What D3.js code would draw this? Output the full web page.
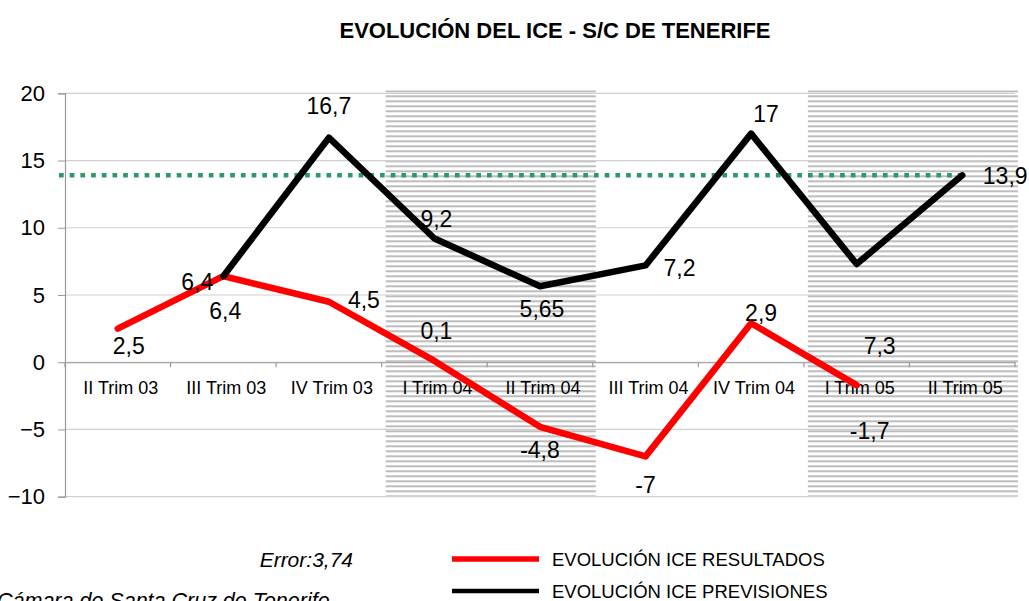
<!DOCTYPE html>
<html><head><meta charset="utf-8">
<script src="https://cdn.jsdelivr.net/npm/d3@7"></script>
<style>body{margin:0;background:#fff}svg{display:block;font-family:"Liberation Sans",Arial,sans-serif}</style>
</head><body>
<svg id="c" width="1029" height="601"></svg>
<script>
const categories = ["II Trim 03","III Trim 03","IV Trim 03","I Trim 04","II Trim 04","III Trim 04","IV Trim 04","I Trim 05","II Trim 05"];
const resultados = [2.5, 6.4, 4.5, 0.1, -4.8, -7, 2.9, -1.7, null];
const previsiones = [null, 6.4, 16.7, 9.2, 5.65, 7.2, 17, 7.3, 13.9];
const yTicks = [-10, -5, 0, 5, 10, 15, 20];
const shadedCats = [["I Trim 04","II Trim 04"],["I Trim 05","II Trim 05"]];
const targetValue = 13.9;
const errorText = "Error:3,74";
const sourceText = "Cámara de Santa Cruz de Tenerife";
const legendLabels = ["EVOLUCIÓN ICE RESULTADOS","EVOLUCIÓN ICE PREVISIONES"];
// label offsets (dx, dy) in px for each data label
const resOffsets = [[11,17],[2,35],[35,-2],[2,-30],[0,23],[0,29],[10,-10],[13,46],null];
const preOffsets = [null,[-26,6],[0,-32],[2,-20],[2,23],[34,3],[15,-20],[23,82],[43,1]];

const svg = d3.select("#c");
const L = 65, R = 1015, T = 93.3, B = 496.7;
const x = d3.scaleBand().domain(categories).range([L, R]).padding(0);
const y = d3.scaleLinear().domain([-10, 20]).range([B, T]);
const cx = c => x(c) + x.bandwidth()/2;
const FONT = "Liberation Sans, Arial, sans-serif";

// hatch pattern
const defs = svg.append("defs");
const pat = defs.append("pattern").attr("id","hatch").attr("patternUnits","userSpaceOnUse")
  .attr("width",8).attr("height",5).attr("y",T-3);
pat.append("rect").attr("x",0).attr("y",0).attr("width",8).attr("height",2).attr("fill","#bdbdbd");

shadedCats.forEach(([a,b]) => {
  svg.append("rect").attr("x", x(a)+4).attr("y", T-3)
    .attr("width", x(b)+x.bandwidth()-x(a)-1).attr("height", B-T+3)
    .attr("fill","url(#hatch)");
});

// gridlines
svg.append("g").selectAll("line").data(yTicks).join("line")
  .attr("x1", L).attr("x2", R).attr("y1", d=>y(d)).attr("y2", d=>y(d))
  .attr("stroke","#d0d0d0").attr("stroke-width",1.2);

// y axis
const yAxis = svg.append("g").attr("transform",`translate(${L},0)`)
  .call(d3.axisLeft(y).tickValues(yTicks).tickSize(7).tickPadding(13).tickFormat(d3.format("d")));
yAxis.select(".domain").attr("stroke","#999").attr("stroke-width",1.2);
yAxis.selectAll(".tick line").attr("stroke","#999");
yAxis.selectAll("text").attr("font-size",22).attr("fill","#000").attr("font-family",FONT);

// x axis at 0
const xAxis = svg.append("g").attr("transform",`translate(0,${y(0)})`)
  .call(d3.axisBottom(x).tickSize(0));
xAxis.select(".domain").attr("stroke","#999").attr("stroke-width",1.2);
xAxis.selectAll("text").attr("font-size",18).attr("fill","#000").attr("font-family",FONT)
  .attr("x",3).attr("y",25).attr("dy","0.35em");
svg.append("g").selectAll("line").data(d3.range(categories.length+1)).join("line")
  .attr("x1", i=>L+i*x.step()).attr("x2", i=>L+i*x.step())
  .attr("y1", y(0)).attr("y2", y(0)+5).attr("stroke","#999").attr("stroke-width",1.2);

// target dotted line
svg.append("line").attr("x1", L-6).attr("x2", cx(categories[8])).attr("y1", y(targetValue)).attr("y2", y(targetValue))
  .attr("stroke","#2e9968").attr("stroke-width",4.5).attr("stroke-dasharray","4.7 6");

// lines
const line = d3.line().defined(d=>d.v!=null).x(d=>cx(d.c)).y(d=>y(d.v));
const resData = categories.map((c,i)=>({c, v: resultados[i]}));
const preData = categories.map((c,i)=>({c, v: previsiones[i]}));
svg.append("path").datum(resData).attr("d", line).attr("fill","none")
  .attr("stroke","#ff0000").attr("stroke-width",6.5).attr("stroke-linejoin","round").attr("stroke-linecap","round");
svg.append("path").datum(preData).attr("d", line).attr("fill","none")
  .attr("stroke","#000").attr("stroke-width",6.5).attr("stroke-linejoin","round").attr("stroke-linecap","round");

// labels
const fmt = v => String(v).replace(".", ",");
function labels(data, offs){
  svg.append("g").selectAll("text").data(data.map((d,i)=>({...d, o: offs[i]})).filter(d=>d.v!=null))
    .join("text").attr("x", d=>cx(d.c)+d.o[0]).attr("y", d=>y(d.v)+d.o[1])
    .attr("text-anchor","middle").attr("dominant-baseline","central")
    .attr("font-size",23).attr("fill","#000").text(d=>fmt(d.v));
}
labels(resData, resOffsets);
labels(preData, preOffsets);

// title
svg.append("text").attr("x",555).attr("y",38).attr("text-anchor","middle")
  .attr("font-size",22).attr("font-weight","bold").text("EVOLUCIÓN DEL ICE - S/C DE TENERIFE");

// error text & source
svg.append("text").attr("x",353).attr("y",567).attr("text-anchor","end")
  .attr("font-size",21).attr("font-style","italic").text(errorText);
svg.append("text").attr("x",-3).attr("y",608).attr("font-size",21.5).attr("font-style","italic").text(sourceText);

// legend
const legColors = ["#ff0000","#000"];
legendLabels.forEach((t,i)=>{
  const ly = 559 + i*32;
  svg.append("line").attr("x1",452).attr("x2",539).attr("y1",ly).attr("y2",ly)
    .attr("stroke",legColors[i]).attr("stroke-width",i===0?5.5:4.5);
  svg.append("text").attr("x",552).attr("y",ly).attr("dominant-baseline","central")
    .attr("font-size",18.5).text(t);
});
</script>
</body></html>
